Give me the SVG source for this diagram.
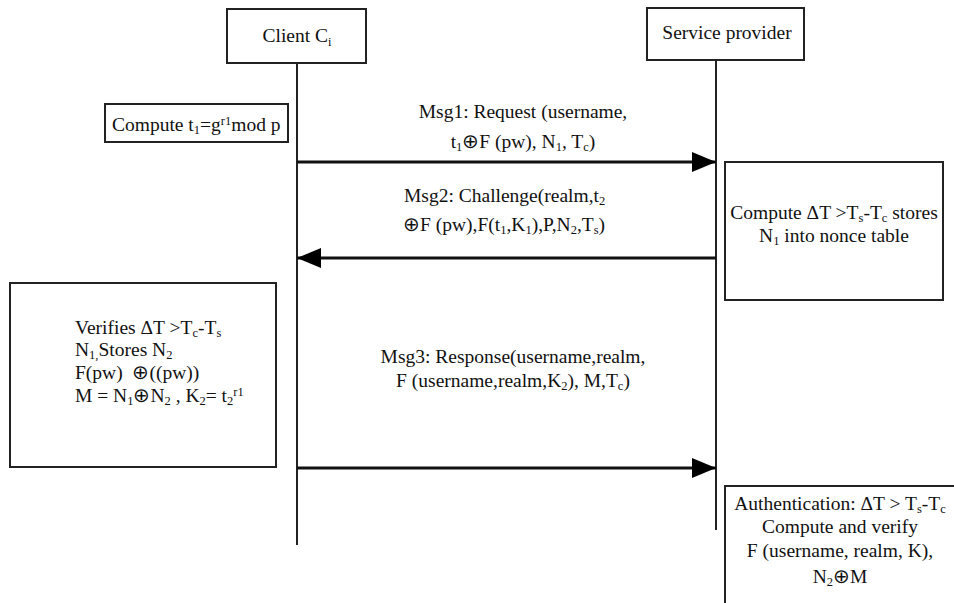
<svg xmlns="http://www.w3.org/2000/svg" width="954" height="603" viewBox="0 0 954 603">
<defs>
<style>
text{font-family:"Liberation Serif","Times New Roman",serif;font-size:19.5px;fill:#111}
.box{fill:#fff;stroke:#222;stroke-width:2}
.life{stroke:#222;stroke-width:2}
.msg{stroke:#111;stroke-width:3;fill:none}
.c{text-anchor:middle}
.sub{font-size:12.5px}
</style>
<marker id="ah" viewBox="0 0 24 20" refX="24" refY="10" markerWidth="24" markerHeight="20" markerUnits="userSpaceOnUse" orient="auto">
<path d="M0,0 L24,10 L0,20 Z" fill="#000"/>
</marker>
</defs>
<g id="lifelines">
<line class="life" x1="297" y1="63" x2="297" y2="545"/>
<line class="life" x1="716" y1="60" x2="716" y2="530"/>
</g>
<g id="client">
<rect class="box" x="227" y="9" width="139" height="54"/>
<text x="297" y="42" class="c">Client C<tspan class="sub" dy="4">i</tspan></text>
</g>
<g id="provider">
<rect class="box" x="647" y="8" width="157" height="52"/>
<text x="727" y="39" class="c">Service provider</text>
</g>
<g id="compute-t1">
<rect class="box" x="105" y="104" width="183" height="38"/>
<text x="112" y="131">Compute t<tspan class="sub" dy="3">1</tspan><tspan dy="-3">=g</tspan><tspan class="sub" dy="-6">r1</tspan><tspan dy="6">mod p</tspan></text>
</g>
<g id="sp-compute">
<rect class="box" x="725" y="162" width="218" height="138"/>
<text x="834" y="219" class="c">Compute ΔT &gt;T<tspan class="sub" dy="3">s</tspan><tspan dy="-3">-T</tspan><tspan class="sub" dy="3">c</tspan><tspan dy="-3"> stores</tspan></text>
<text x="834" y="242" class="c">N<tspan class="sub" dy="3">1</tspan><tspan dy="-3"> into nonce table</tspan></text>
</g>
<g id="client-verify">
<rect class="box" x="10" y="283" width="266" height="184"/>
<text x="75" y="334">Verifies ΔT &gt;T<tspan class="sub" dy="3">c</tspan><tspan dy="-3">-T</tspan><tspan class="sub" dy="3">s</tspan></text>
<text x="75" y="356">N<tspan class="sub" dy="3">1,</tspan><tspan dy="-3">Stores N</tspan><tspan class="sub" dy="3">2</tspan></text>
<text x="75" y="379">F(pw) &#160;⊕((pw))</text>
<text x="75" y="402">M = N<tspan class="sub" dy="3">1</tspan><tspan dy="-3">⊕N</tspan><tspan class="sub" dy="3">2</tspan><tspan dy="-3"> , K</tspan><tspan class="sub" dy="3">2</tspan><tspan dy="-3">= t</tspan><tspan class="sub" dy="3">2</tspan><tspan class="sub" dy="-9">r1</tspan></text>
</g>
<g id="auth">
<path class="box" d="M725,603 L725,486 L956,486"/>
<text x="840" y="510" class="c">Authentication: ΔT &gt; T<tspan class="sub" dy="3">s</tspan><tspan dy="-3">-T</tspan><tspan class="sub" dy="3">c</tspan></text>
<text x="840" y="533" class="c">Compute and verify</text>
<text x="840" y="557" class="c">F (username, realm, K),</text>
<text x="840" y="583" class="c">N<tspan class="sub" dy="3">2</tspan><tspan dy="-3">⊕M</tspan></text>
</g>
<g id="connectors">
<line class="msg" x1="297" y1="162" x2="716" y2="162" marker-end="url(#ah)"/>
<line class="msg" x1="716" y1="258" x2="297" y2="258" marker-end="url(#ah)"/>
<line class="msg" x1="297" y1="468" x2="716" y2="468" marker-end="url(#ah)"/>
<text x="523" y="118" class="c">Msg1: Request (username,</text>
<text x="523" y="148" class="c">t<tspan class="sub" dy="3">1</tspan><tspan dy="-3">⊕F (pw), N</tspan><tspan class="sub" dy="3">1</tspan><tspan dy="-3">, T</tspan><tspan class="sub" dy="3">c</tspan><tspan dy="-3">)</tspan></text>
<text x="404" y="202">Msg2: Challenge(realm,t<tspan class="sub" dy="3">2</tspan></text>
<text x="403" y="231">⊕F (pw),F(t<tspan class="sub" dy="3">1</tspan><tspan dy="-3">,K</tspan><tspan class="sub" dy="3">1</tspan><tspan dy="-3">),P,N</tspan><tspan class="sub" dy="3">2</tspan><tspan dy="-3">,T</tspan><tspan class="sub" dy="3">s</tspan><tspan dy="-3">)</tspan></text>
<text x="513" y="363" class="c">Msg3: Response(username,realm,</text>
<text x="513" y="387" class="c">F (username,realm,K<tspan class="sub" dy="3">2</tspan><tspan dy="-3">), M,T</tspan><tspan class="sub" dy="3">c</tspan><tspan dy="-3">)</tspan></text>
</g>
</svg>
